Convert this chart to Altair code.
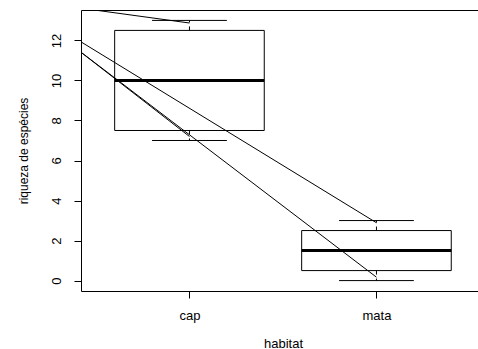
import altair as alt
import pandas as pd

# ---- data ----
habitats = ["cap", "mata"]
positions = [1, 2]
whisker_low = [7.0, 0.0]
hinge_low = [7.5, 0.5]
medians = [10.0, 1.5]
hinge_high = [12.5, 2.5]
whisker_high = [13.0, 3.0]

line_x0 = [0, 0, 0, 0]
line_y0 = [14.15, 14.33, 14.40, 14.45]
line_x1 = [1, 2, 2, 1]
line_y1 = [12.87, 2.89, 0.17, 7.20]

y_ticks = [0, 2, 4, 6, 8, 10, 12]

boxes = pd.DataFrame({
    "habitat": habitats, "pos": positions,
    "lower": whisker_low, "q1": hinge_low, "median": medians,
    "q3": hinge_high, "upper": whisker_high,
})
lines = pd.DataFrame({"x0": line_x0, "y0": line_y0, "x1": line_x1, "y1": line_y1})

FONT = "Liberation Sans"
FS = 13
W, H = 397, 281
xs = alt.Scale(domain=[0.42, 2.543], nice=False, zero=False)
ys = alt.Scale(domain=[-0.52, 13.52], nice=False, zero=False)

label_expr = " : ".join(
    [f"datum.value == {p} ? '{h}'" for p, h in zip(positions, habitats)]
) + " : ''"

x_axis = alt.Axis(
    values=positions, labelExpr=label_expr, title="habitat", grid=False,
    tickSize=7, tickColor="black", domainColor="black", labelColor="black",
    labelFont=FONT, labelFontSize=FS, labelBaseline="alphabetic", labelPadding=21,
    titleFont=FONT, titleFontSize=FS, titleFontWeight="normal", titleColor="black",
    titleX=202, titleY=56, titleAlign="center", titleBaseline="alphabetic",
)
y_axis = alt.Axis(
    values=y_ticks, title="riqueza de espécies", grid=False,
    tickSize=7, tickColor="black", domainColor="black", labelColor="black",
    labelFont=FONT, labelFontSize=FS, labelAngle=270, labelAlign="center",
    labelBaseline="bottom", labelPadding=11,
    titleFont=FONT, titleFontSize=12, titleFontWeight="normal", titleColor="black",
    titleAngle=270, titleX=-54, titleY=140.5, titleAlign="center", titleBaseline="alphabetic",
)
top_axis = alt.Axis(orient="top", labels=False, ticks=False, title=None, grid=False,
                    domainColor="black")

base = alt.Chart(boxes).transform_calculate(
    lo="datum.pos - 0.4", hi="datum.pos + 0.4",
    slo="datum.pos - 0.2", shi="datum.pos + 0.2",
)

box = base.mark_rect(fill="white", stroke="black", strokeWidth=1).encode(
    x=alt.X("lo:Q", scale=xs, axis=x_axis), x2="hi:Q",
    y=alt.Y("q1:Q", scale=ys, axis=y_axis), y2="q3:Q",
)
median = base.mark_rule(color="black", strokeWidth=3, strokeCap="butt").encode(
    x=alt.X("lo:Q", scale=xs, axis=None), x2="hi:Q",
    y=alt.Y("median:Q", scale=ys, axis=y_axis),
)
staple_lo = base.mark_rule(color="black", strokeWidth=1).encode(
    x=alt.X("slo:Q", scale=xs, axis=None), x2="shi:Q",
    y=alt.Y("lower:Q", scale=ys, axis=y_axis),
)
staple_hi = base.mark_rule(color="black", strokeWidth=1).encode(
    x=alt.X("slo:Q", scale=xs, axis=None), x2="shi:Q",
    y=alt.Y("upper:Q", scale=ys, axis=y_axis),
)
whisk_lo = base.mark_rule(color="black", strokeWidth=1, strokeDash=[4, 4]).encode(
    x=alt.X("pos:Q", scale=xs, axis=None),
    y=alt.Y("q1:Q", scale=ys, axis=y_axis), y2="lower:Q",
)
whisk_hi = base.mark_rule(color="black", strokeWidth=1, strokeDash=[4, 4]).encode(
    x=alt.X("pos:Q", scale=xs, axis=None),
    y=alt.Y("q3:Q", scale=ys, axis=y_axis), y2="upper:Q",
)
segs = alt.Chart(lines).mark_rule(color="black", strokeWidth=1, clip=True).encode(
    x=alt.X("x0:Q", scale=xs, axis=top_axis), x2="x1:Q",
    y=alt.Y("y0:Q", scale=ys, axis=y_axis), y2="y1:Q",
)

chart = alt.layer(box, whisk_lo, whisk_hi, staple_lo, staple_hi, median, segs).resolve_axis(
    x="independent"
).properties(
    width=W, height=H, autosize="none",
    padding={"left": 81, "top": 10, "right": 0, "bottom": 58},
    background="white",
).configure_view(stroke=None)

chart.save("out.html", embed_options={"renderer": "svg", "actions": False})
